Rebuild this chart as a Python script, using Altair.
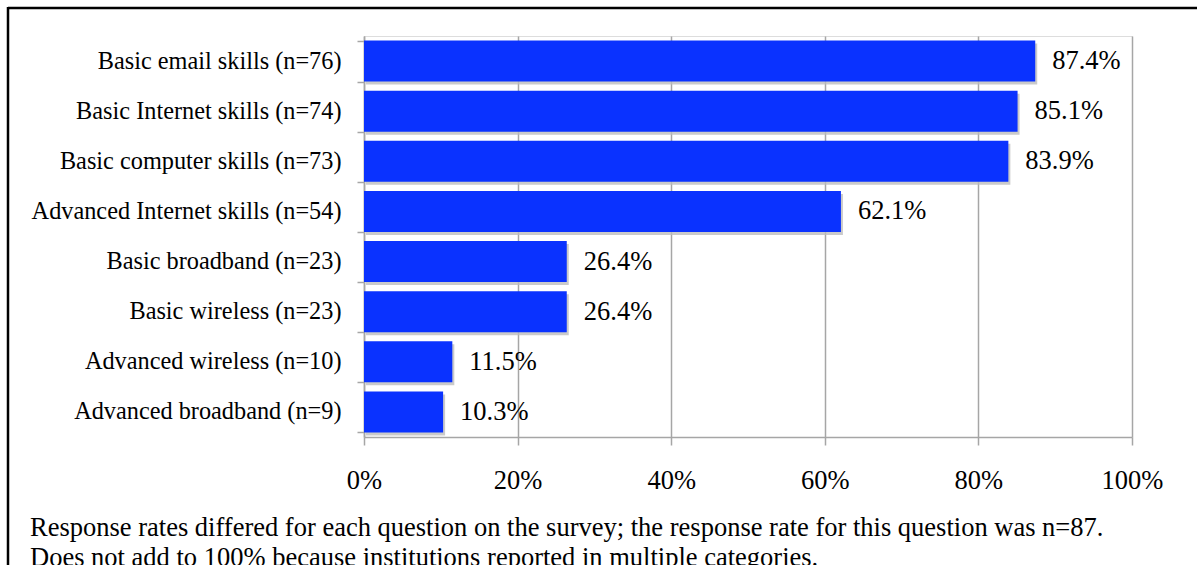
import altair as alt
import pandas as pd

categories = [
    "Basic email skills (n=76)",
    "Basic Internet skills (n=74)",
    "Basic computer skills (n=73)",
    "Advanced Internet skills (n=54)",
    "Basic broadband (n=23)",
    "Basic wireless (n=23)",
    "Advanced wireless (n=10)",
    "Advanced broadband (n=9)",
]
values = [0.874, 0.851, 0.839, 0.621, 0.264, 0.264, 0.115, 0.103]
x_ticks = [0, 0.2, 0.4, 0.6, 0.8, 1.0]
footnote = [
    "Response rates differed for each question on the survey; the response rate for this question was n=87.",
    "Does not add to 100% because institutions reported in multiple categories.",
]

df = pd.DataFrame({"cat": categories, "val": values})
FONT = "Liberation Serif"
W, H = 768, 401
LEFT, TOP = 364, 36

xenc = alt.X(
    "val:Q",
    scale=alt.Scale(domain=[0, 1], nice=False),
    axis=alt.Axis(
        values=x_ticks, format=".0%", title=None, grid=True,
        gridColor="#A6A6A6", gridWidth=1.5, domainColor="#A6A6A6", domainWidth=1.5,
        tickColor="#A6A6A6", tickWidth=1.5, tickSize=8, labelFlush=False,
        labelFont=FONT, labelFontSize=26.5, labelColor="black", labelPadding=22,
    ),
)
yenc = alt.Y(
    "cat:N", sort=categories,
    scale=alt.Scale(paddingInner=0.18, paddingOuter=0.09),
    axis=alt.Axis(
        title=None, tickBand="extent", grid=False,
        domainColor="#A6A6A6", domainWidth=1.5, tickColor="#A6A6A6", tickWidth=1.5,
        tickSize=7, labelFont=FONT, labelFontSize=24.3, labelColor="black",
        labelPadding=16, labelLimit=0,
    ),
)

base = alt.Chart(df)
shadow = base.mark_bar(color="#BDBDBD", opacity=0.8, xOffset=2, yOffset=3).encode(x=xenc, y=yenc)
bars = base.mark_bar(color="#0A32FF").encode(x=xenc, y=yenc)
labels = base.mark_text(
    align="left", baseline="middle", dx=17, font=FONT, fontSize=26.5, color="black"
).encode(x=xenc, y=yenc, text=alt.Text("val:Q", format=".1%"))

fn_df = pd.DataFrame({"note": ["\n".join(footnote)]})
notes = alt.Chart(fn_df).mark_text(
    align="left", baseline="alphabetic", font=FONT, fontSize=26.5, color="black",
    lineBreak="\n", lineHeight=30,
).encode(x=alt.value(30 - LEFT), y=alt.value(536 - TOP), text="note:N")

frame_top = alt.Chart(pd.DataFrame({"a": [0]})).mark_rule(color="black", strokeWidth=2.5).encode(
    x=alt.value(8 - LEFT), x2=alt.value(1210 - LEFT), y=alt.value(8 - TOP)
)
frame_left = alt.Chart(pd.DataFrame({"a": [0]})).mark_rule(color="black", strokeWidth=2.5).encode(
    x=alt.value(8 - LEFT), y=alt.value(7 - TOP), y2=alt.value(600 - TOP)
)

chart = alt.layer(shadow, bars, labels, notes, frame_top, frame_left).properties(
    width=W, height=H,
    autosize=alt.AutoSizeParams(type="none"),
    padding={"left": LEFT, "top": TOP, "right": 1197 - LEFT - W, "bottom": 565 - TOP - H},
).configure_view(stroke=None).configure(background="white")

chart.save("out.html", embed_options={"renderer": "svg", "actions": False})
